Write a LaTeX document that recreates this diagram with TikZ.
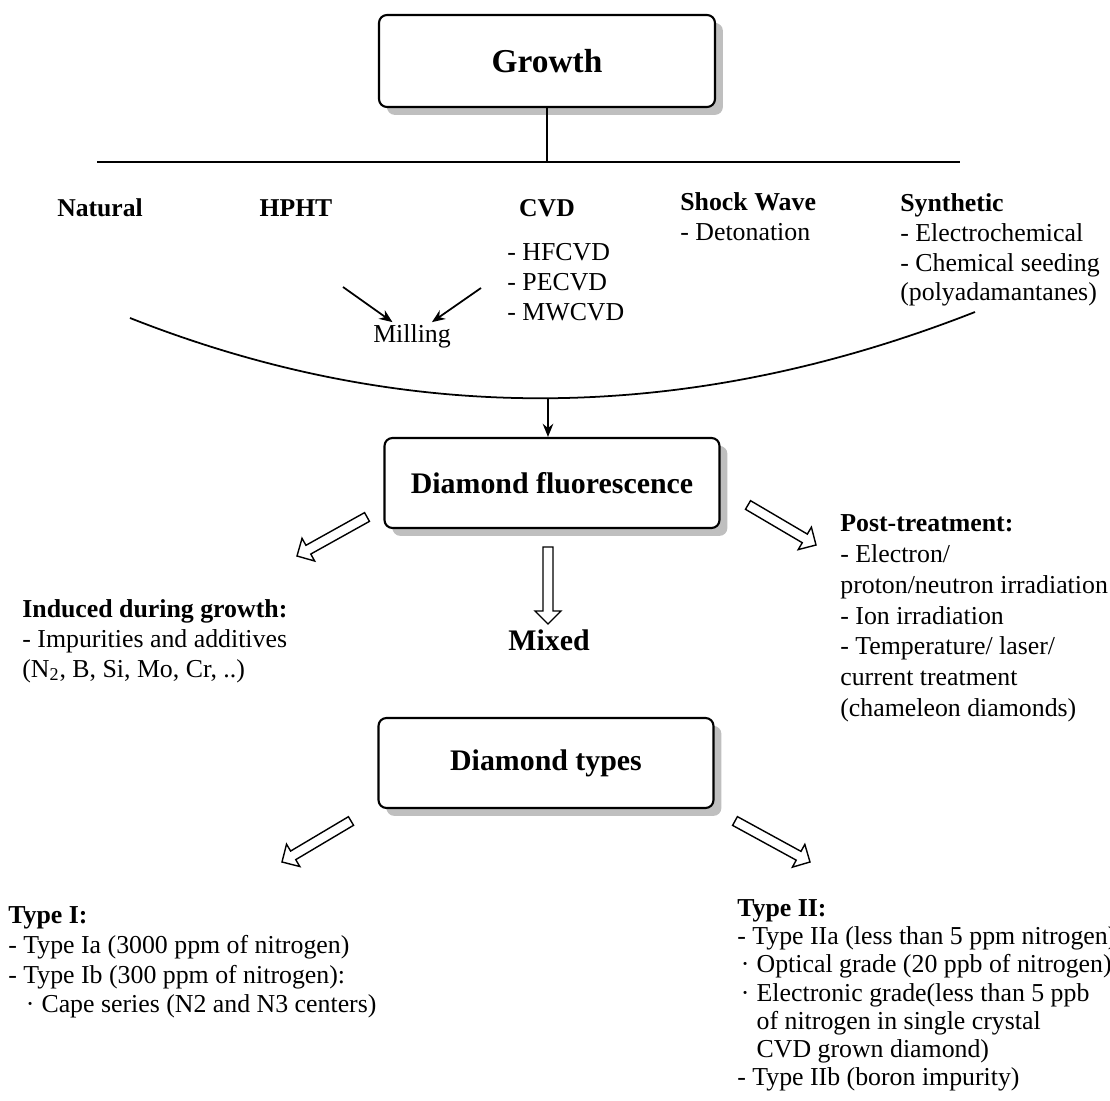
\documentclass[tikz,border=0pt]{standalone}
\usepackage{fontspec}
\setmainfont{Liberation Serif}
\usetikzlibrary{arrows.meta, positioning, calc, shadows}

% open (hollow) block arrow from #1 (tail) to #2 (tip)
\newcommand{\hollowarrow}[2]{%
    \coordinate (neck) at ($(#2)!0.26cm!(#1)$);
    \draw[hollow] ($(#1)!0.1cm!90:(#2)$) -- ($(neck)!0.1cm!90:(#2)$)
        -- ($(neck)!0.26cm!90:(#2)$) -- (#2)
        -- ($(neck)!0.26cm!-90:(#2)$) -- ($(neck)!0.1cm!-90:(#2)$)
        -- ($(#1)!0.1cm!-90:(#2)$) -- cycle;
}

\begin{document}
\begin{tikzpicture}[
            x=0.02cm, y=-0.02cm,
            stage/.style={
                rectangle,
                draw,
                line width=1.2pt,
                rounded corners=4.5pt,
                fill=white,
                minimum width=6.7cm,
                minimum height=1.8cm,
                align=center,
                font=\fontsize{17}{20}\selectfont\bfseries,
                drop shadow={shadow xshift=4.5pt, shadow yshift=-4.5pt, fill=black!25, opacity=1}
            },
            method/.style={
                inner sep=0pt,
                font=\fontsize{14.6}{17}\selectfont\bfseries
            },
            notes/.style={
                anchor=north west,
                inner sep=0pt,
                align=left,
                font=\fontsize{14.7}{17}\selectfont
            },
            conn/.style={
                line width=1pt
            },
            arrow/.style={
                -{Stealth[length=7.5pt, width=6pt]},
                line width=1pt
            },
            hollow/.style={
                line width=0.8pt,
                fill=white,
                line join=miter
            }
        ]
        \useasboundingbox (0,0) rectangle (1110,1101);

        % Growth
        \node (growth) [stage, minimum width=6.72cm, minimum height=1.84cm, font=\fontsize{19}{22}\selectfont\bfseries] at (547,61) {Growth};
        \coordinate (barl) at (97,162);
        \coordinate (barr) at (960,162);
        \draw[conn] (barl) -- (barr);
        \draw[conn] (growth.south) -- (growth.south |- barl);

        % Growth methods
        \node (natural) [method] at (100,208) {Natural};
        \node (hpht) [method] at (296,208) {HPHT};
        \node (cvd) [method] at (547,208) {CVD};
        \node (cvdlist) [notes] at (507,243) {- HFCVD\\- PECVD\\- MWCVD};
        \node (shock) [notes] at (680,192) {\textbf{Shock Wave}\\- Detonation};
        \node (synth) [notes] at (900,193) {\textbf{Synthetic}\\- Electrochemical\\- Chemical seeding\\(polyadamantanes)};

        % Milling
        \node (milling) [inner sep=1pt, font=\fontsize{14.7}{17}\selectfont] at (412,336) {Milling};
        \coordinate (millhpht) at (343,287);
        \coordinate (millcvd) at (481,288);
        \draw[arrow] (millhpht) -- (milling);
        \draw[arrow] (millcvd) -- (milling);

        % Collecting arc
        \coordinate (arcl) at (130,318);
        \coordinate (arcr) at (975,312);
        \draw[conn] (arcl) .. controls (406,427) and (687,425) .. (arcr) coordinate[pos=0.5] (arcmid);

        % Diamond fluorescence
        \node (fluor) [stage] at (552,483) {Diamond fluorescence};
        \draw[arrow] (arcmid) -- (arcmid |- fluor.north);

        \coordinate (inducedtail) at (367,517);
        \coordinate (inducedtip) at (297,556);
        \hollowarrow{inducedtail}{inducedtip}
        \coordinate (mixedtail) at (548,547);
        \coordinate (mixedtip) at (548,624);
        \hollowarrow{mixedtail}{mixedtip}
        \coordinate (posttail) at (748,505);
        \coordinate (posttip) at (816,545);
        \hollowarrow{posttail}{posttip}

        \node (induced) [notes] at (22,599) {\textbf{Induced during growth:}\\- Impurities and additives\\(N\textsubscript{2}, B, Si, Mo, Cr, ..)};
        \node (mixed) [method, font=\fontsize{17}{20}\selectfont\bfseries] at (549,640) {Mixed};
        \node (post) [notes, font=\fontsize{14.7}{17.6}\selectfont] at (840,514) {\textbf{Post-treatment:}\\- Electron/\\proton/neutron irradiation\\- Ion irradiation\\- Temperature/ laser/\\current treatment\\(chameleon diamonds)};

        % Diamond types
        \node (types) [stage] at (546,763) {Diamond types};

        \coordinate (onetail) at (351,821);
        \coordinate (onetip) at (282,862);
        \hollowarrow{onetail}{onetip}
        \coordinate (twotail) at (735,821);
        \coordinate (twotip) at (810,862);
        \hollowarrow{twotail}{twotip}

        \node (typeone) [notes] at (8,906) {\textbf{Type I:}\\- Type Ia (3000 ppm of nitrogen)\\- Type Ib (300 ppm of nitrogen):\\\hspace*{10pt}·\hspace{4pt}Cape series (N2 and N3 centers)};
        \node (typetwo) [notes, font=\fontsize{14.7}{16.1}\selectfont] at (737,899) {\textbf{Type II:}\\- Type IIa (less than 5 ppm nitrogen)\\\makebox[11pt][l]{\hspace{2pt}·}Optical grade (20 ppb of nitrogen)\\\makebox[11pt][l]{\hspace{2pt}·}Electronic grade(less than 5 ppb\\\hspace*{11pt}of nitrogen in single crystal\\\hspace*{11pt}CVD grown diamond)\\- Type IIb (boron impurity)};

        \end{tikzpicture}
\end{document}
